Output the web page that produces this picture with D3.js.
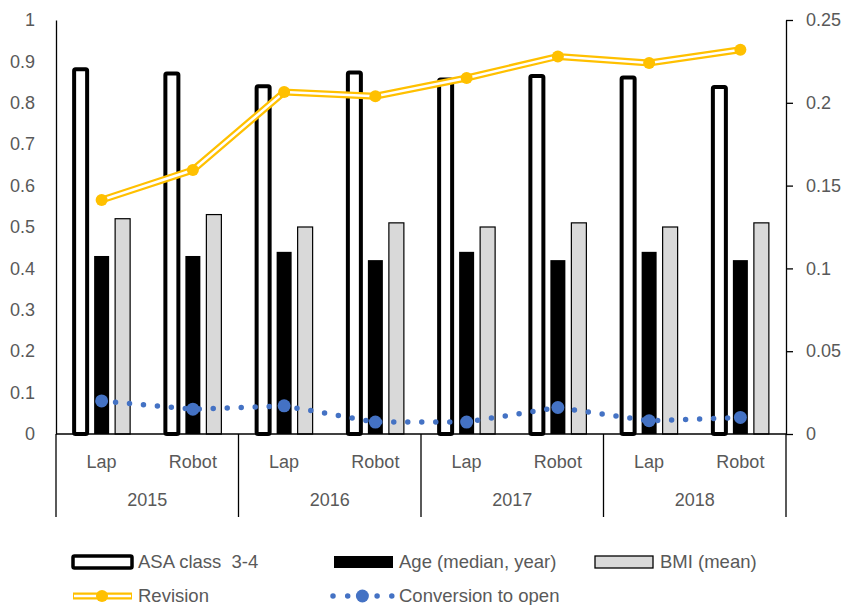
<!DOCTYPE html>
<html><head><meta charset="utf-8">
<script src="https://cdn.jsdelivr.net/npm/d3@7"></script>
<style>body{margin:0;background:#fff}text{font-family:"Liberation Sans",Arial,sans-serif;white-space:pre}</style>
</head><body>
<svg id="c" width="841" height="605"></svg>
<script>
const years = ["2015","2016","2017","2018"];
const methods = ["Lap","Robot"];
const asa = [0.881,0.871,0.840,0.873,0.856,0.865,0.861,0.838];
const age = [0.43,0.43,0.44,0.42,0.44,0.42,0.44,0.42];
const bmi = [0.52,0.53,0.50,0.51,0.50,0.51,0.50,0.51];
const revision = [0.1413,0.1594,0.2065,0.2040,0.2150,0.2280,0.2240,0.2320];
const conversion = [0.020,0.015,0.017,0.0072,0.0072,0.016,0.008,0.010];
const leftTicks = [0,0.1,0.2,0.3,0.4,0.5,0.6,0.7,0.8,0.9,1];
const rightTicks = [0,0.05,0.1,0.15,0.2,0.25];
const seriesNames = ["ASA class  3-4","Age (median, year)","BMI (mean)","Revision","Conversion to open"];

const cats = [];
years.forEach(y => methods.forEach(m => cats.push(y + "|" + m)));

const svg = d3.select("#c");
const L = 56, R = 786, T = 20, B = 434;
const x = d3.scaleBand().domain(cats).range([L, R]).padding(0);
const xs = d3.scaleBand().domain([0,1,2]).range([-28.5, 28.5]).paddingInner(6/21).paddingOuter(0);
const yL = d3.scaleLinear().domain([0,1]).range([B, T]);
const yR = d3.scaleLinear().domain([0,0.25]).range([B, T]);
const cx = c => x(c) + x.bandwidth()/2;
const grey = "#595959";
const FS = "18px";

// Left axis
const axL = svg.append("g").attr("transform", `translate(${L},0)`)
  .call(d3.axisLeft(yL).tickValues(leftTicks).tickSize(0).tickPadding(21).tickFormat(d3.format("~g")));
axL.select(".domain").attr("stroke", "#000").attr("stroke-width", 1.3);
axL.selectAll("text").attr("fill", grey).style("font-size", FS);

// Right axis
const axR = svg.append("g").attr("transform", `translate(${R},0)`)
  .call(d3.axisRight(yR).tickValues(rightTicks).tickSize(7).tickSizeOuter(0).tickPadding(13).tickFormat(d3.format("~g")));
axR.select(".domain").attr("stroke", "#000").attr("stroke-width", 1.3);
axR.selectAll("line").attr("stroke", "#000").attr("stroke-width", 1.3);
axR.selectAll("text").attr("fill", grey).style("font-size", FS);

// Bars
const gB = svg.append("g");
gB.selectAll("rect.age").data(cats).join("rect")
  .attr("x", c => cx(c) + xs(1)).attr("width", xs.bandwidth())
  .attr("y", (c,i) => yL(age[i])).attr("height", (c,i) => B - yL(age[i]))
  .attr("fill", "#000");
gB.selectAll("rect.bmi").data(cats).join("rect")
  .attr("x", c => cx(c) + xs(2)).attr("width", xs.bandwidth())
  .attr("y", (c,i) => yL(bmi[i])).attr("height", (c,i) => B - yL(bmi[i]))
  .attr("fill", "#d9d9d9").attr("stroke", "#000").attr("stroke-width", 1.2);
gB.selectAll("rect.asa").data(cats).join("rect")
  .attr("x", c => cx(c) + xs(0) + 1).attr("width", xs.bandwidth() - 2)
  .attr("y", (c,i) => yL(asa[i])).attr("height", (c,i) => B - yL(asa[i]))
  .attr("fill", "#fff").attr("stroke", "#000").attr("stroke-width", 4).attr("rx", 1.5);

// X axis baseline + category separators
const gX = svg.append("g");
gX.append("line").attr("x1", L).attr("x2", R).attr("y1", B).attr("y2", B).attr("stroke", "#000").attr("stroke-width", 1.3);
const bounds = years.map(y => x(y + "|Lap")).concat([R]);
gX.selectAll("line.sep").data(bounds).join("line")
  .attr("x1", d => d).attr("x2", d => d).attr("y1", B).attr("y2", 517)
  .attr("stroke", "#000").attr("stroke-width", 1.3);
gX.selectAll("text.m").data(cats).join("text")
  .attr("x", c => cx(c)).attr("y", 468).attr("text-anchor", "middle")
  .attr("fill", grey).style("font-size", FS).text(c => c.split("|")[1]);
gX.selectAll("text.y").data(years).join("text")
  .attr("x", y => (x(y + "|Lap") + x(y + "|Robot") + x.bandwidth())/2).attr("y", 506)
  .attr("text-anchor", "middle").attr("fill", grey).style("font-size", FS).text(y => y);

// Conversion line (dotted)
const blue = "#4472c4";
const lineC = d3.line().x(c => cx(c)).y((c,i) => yR(conversion[i]));
svg.append("path").attr("d", lineC(cats)).attr("fill", "none").attr("stroke", blue)
  .attr("stroke-width", 5.5).attr("stroke-linecap", "round").attr("stroke-dasharray", "0,14");
svg.selectAll("circle.conv").data(cats).join("circle")
  .attr("cx", c => cx(c)).attr("cy", (c,i) => yR(conversion[i])).attr("r", 6.5).attr("fill", blue);

// Revision line (double)
const gold = "#ffc000";
const lineR = d3.line().x(c => cx(c)).y((c,i) => yR(revision[i]));
svg.append("path").attr("d", lineR(cats)).attr("fill", "none").attr("stroke", gold).attr("stroke-width", 7);
svg.append("path").attr("d", lineR(cats)).attr("fill", "none").attr("stroke", "#fff").attr("stroke-width", 2.5);
svg.selectAll("circle.rev").data(cats).join("circle")
  .attr("cx", c => cx(c)).attr("cy", (c,i) => yR(revision[i])).attr("r", 6).attr("fill", gold);

// Legend
const lg = svg.append("g");
const LFS = "18.5px";
const lt = (tx, ty, s) => lg.append("text").attr("x", tx).attr("y", ty).attr("fill", grey).style("font-size", LFS).text(s);
lg.append("rect").attr("x", 73).attr("y", 556).attr("width", 59).attr("height", 12).attr("fill", "#fff").attr("stroke", "#000").attr("stroke-width", 3.5).attr("rx", 1.5);
lt(138, 568, seriesNames[0]);
lg.append("rect").attr("x", 334).attr("y", 556).attr("width", 59).attr("height", 12).attr("fill", "#000");
lt(399, 568, seriesNames[1]);
lg.append("rect").attr("x", 595).attr("y", 556).attr("width", 58).attr("height", 12).attr("fill", "#d9d9d9").attr("stroke", "#000").attr("stroke-width", 1.3);
lt(660, 568, seriesNames[2]);
lg.append("line").attr("x1", 73).attr("x2", 132).attr("y1", 596).attr("y2", 596).attr("stroke", gold).attr("stroke-width", 7);
lg.append("line").attr("x1", 74).attr("x2", 131).attr("y1", 596).attr("y2", 596).attr("stroke", "#fff").attr("stroke-width", 2.5);
lg.append("circle").attr("cx", 102).attr("cy", 596).attr("r", 6).attr("fill", gold);
lt(138, 602, seriesNames[3]);
lg.append("line").attr("x1", 333).attr("x2", 392).attr("y1", 596).attr("y2", 596).attr("stroke", blue).attr("stroke-width", 5.5).attr("stroke-linecap", "round").attr("stroke-dasharray", "0,14.7");
lg.append("circle").attr("cx", 362.4).attr("cy", 596).attr("r", 6.5).attr("fill", blue);
lt(399, 602, seriesNames[4]);
</script>
</body></html>
